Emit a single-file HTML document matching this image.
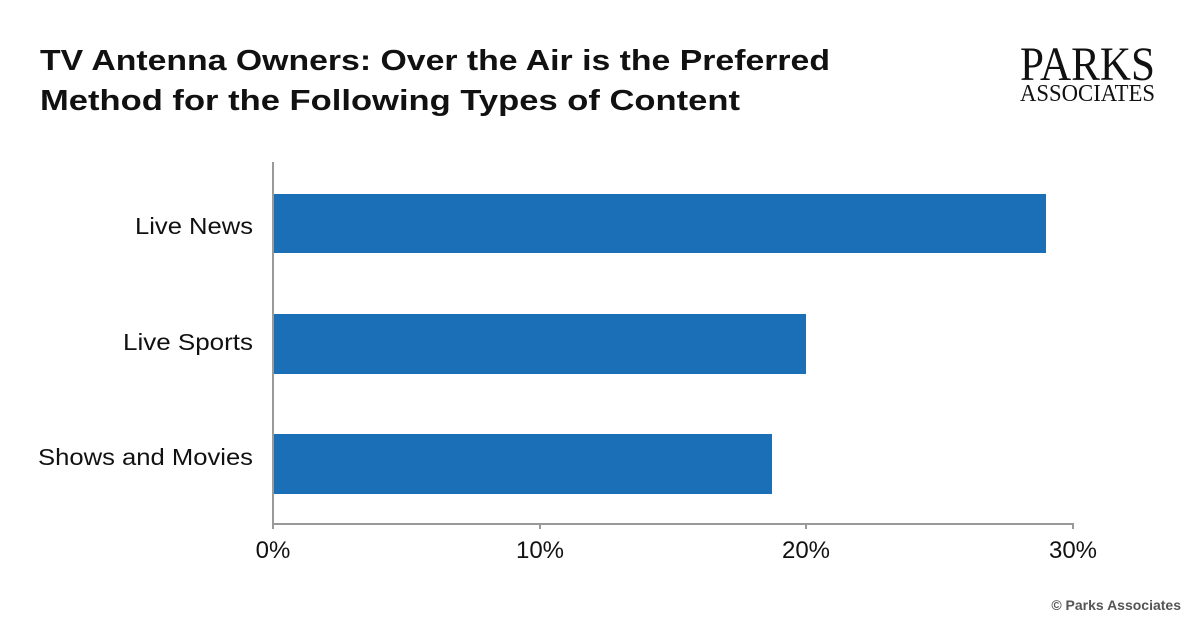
<!DOCTYPE html>
<html><head><meta charset="utf-8"><style>
body{margin:0;background:#fff;}
</style></head><body>
<svg width="1201" height="628" xmlns="http://www.w3.org/2000/svg" style="display:block">
<rect width="1201" height="628" fill="#fff"/>
<g font-family="Liberation Sans, sans-serif" fill="#111" font-weight="bold" font-size="29">
<text x="40" y="70" textLength="790" lengthAdjust="spacingAndGlyphs">TV Antenna Owners: Over the Air is the Preferred</text>
<text x="40" y="110" textLength="700" lengthAdjust="spacingAndGlyphs">Method for the Following Types of Content</text>
</g>
<g font-family="Liberation Serif, serif" fill="#111">
<text x="1020" y="80" font-size="48" textLength="135" lengthAdjust="spacingAndGlyphs">PARKS</text>
<text x="1020" y="101" font-size="24" textLength="135" lengthAdjust="spacingAndGlyphs">ASSOCIATES</text>
</g>
<g fill="#1a6fb7">
<rect x="273" y="194" width="773" height="59"/>
<rect x="273" y="314" width="533" height="60"/>
<rect x="273" y="434" width="499" height="60"/>
</g>
<g stroke="#999" stroke-width="2">
<line x1="273" y1="162" x2="273" y2="529"/>
<line x1="272" y1="524" x2="1074" y2="524"/>
<line x1="540" y1="524" x2="540" y2="529"/>
<line x1="806" y1="524" x2="806" y2="529"/>
<line x1="1073" y1="524" x2="1073" y2="529"/>
</g>
<g font-family="Liberation Sans, sans-serif" font-size="23" fill="#111">
<text x="135" y="234" textLength="118" lengthAdjust="spacingAndGlyphs">Live News</text>
<text x="123" y="350" textLength="130" lengthAdjust="spacingAndGlyphs">Live Sports</text>
<text x="38" y="465" textLength="215" lengthAdjust="spacingAndGlyphs">Shows and Movies</text>
<g text-anchor="middle" font-size="24">
<text x="273" y="558">0%</text>
<text x="540" y="558">10%</text>
<text x="806" y="558">20%</text>
<text x="1073" y="558">30%</text>
</g>
</g>
<text x="1181" y="610" text-anchor="end" font-family="Liberation Sans, sans-serif" font-size="14" font-weight="bold" fill="#555">© Parks Associates</text>
</svg>
</body></html>
